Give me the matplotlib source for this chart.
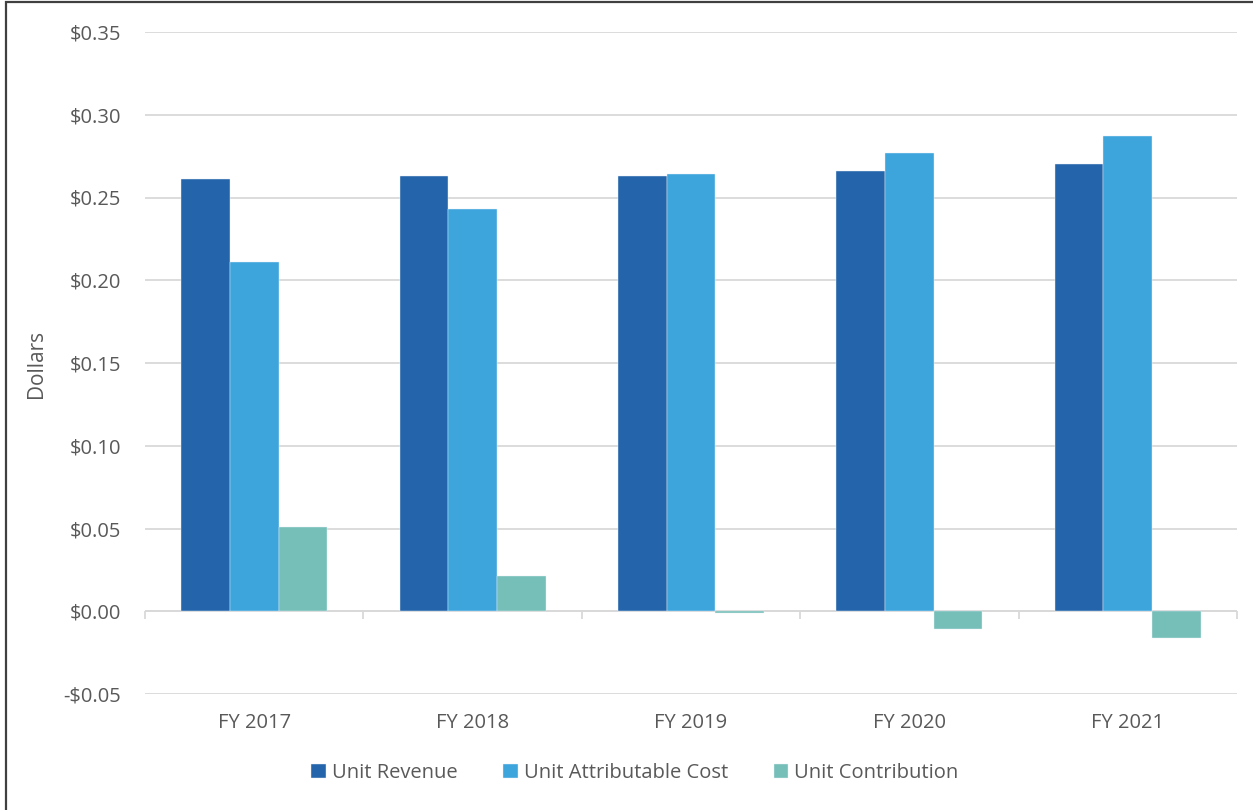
import matplotlib
matplotlib.use("Agg")
import matplotlib.pyplot as plt
from matplotlib.patches import Rectangle
from matplotlib.ticker import FuncFormatter
import numpy as np

categories = ["FY 2017", "FY 2018", "FY 2019", "FY 2020", "FY 2021"]
unit_revenue = [0.261, 0.263, 0.263, 0.266, 0.270]
unit_cost = [0.211, 0.243, 0.264, 0.277, 0.287]
unit_contribution = [0.051, 0.021, -0.001, -0.011, -0.016]
series_names = ["Unit Revenue", "Unit Attributable Cost", "Unit Contribution"]
series_colors = ["#2464AA", "#3DA5DB", "#75BFB8"]
y_ticks = [-0.05, 0.0, 0.05, 0.10, 0.15, 0.20, 0.25, 0.30, 0.35]

plt.rcParams["font.family"] = ["Open Sans", "DejaVu Sans"]
text_color = "#595959"
grid_color = "#D9D9D9"

fig = plt.figure(figsize=(12.53, 8.10), dpi=100)
ax = fig.add_axes([145 / 1253, 1 - 694 / 810, (1237 - 145) / 1253, (694 - 32) / 810])

x = np.arange(len(categories))
w = 0.223
for i, (vals, name, col) in enumerate(zip([unit_revenue, unit_cost, unit_contribution],
                                          series_names, series_colors)):
    ax.bar(x + (i - 1) * w, vals, width=w, color=col, label=name,
           edgecolor="#E8F0F8", linewidth=0.3, zorder=3)

ax.set_xlim(-0.5, len(categories) - 0.5)
ax.set_ylim(y_ticks[0], y_ticks[-1])
ax.set_yticks(y_ticks)
ax.yaxis.set_major_formatter(FuncFormatter(lambda v, p: f"-${abs(v):.2f}" if v < -1e-9 else f"${v:.2f}"))
ax.grid(axis="y", color=grid_color, linewidth=1.3, zorder=0)
for s in ax.spines.values():
    s.set_visible(False)
ax.tick_params(axis="y", length=0, pad=17, labelsize=14.5, labelcolor=text_color)
ax.set_xticks(x)
ax.set_xticklabels(categories)
ax.tick_params(axis="x", length=0, pad=14, labelsize=14.5, labelcolor=text_color)

# category axis drawn along zero with boundary ticks
ax.axhline(0, color=grid_color, linewidth=1.3, zorder=2)
bounds = np.arange(len(categories) + 1) - 0.5
ax.vlines(bounds, -0.0045, 0, color=grid_color, linewidth=1.3, zorder=2, clip_on=False)

fig.text(37 / 1253, 1 - 364 / 810, "Dollars", rotation=90, ha="center", va="center",
         fontsize=15, color=text_color)

leg = fig.legend(loc="center", bbox_to_anchor=(635 / 1253, 1 - 773 / 810), ncol=3,
                 frameon=False, fontsize=14.5, handlelength=0.7, handleheight=0.7,
                 handletextpad=0.3, columnspacing=2.3, labelcolor=text_color)

# chart frame
fig.patches.append(Rectangle((6 / 1253, -0.01), 1.05, 1 - 2 / 810 + 0.01,
                             transform=fig.transFigure, fill=False,
                             edgecolor="#404040", linewidth=1.6))

fig.savefig("out.png", dpi=100)
